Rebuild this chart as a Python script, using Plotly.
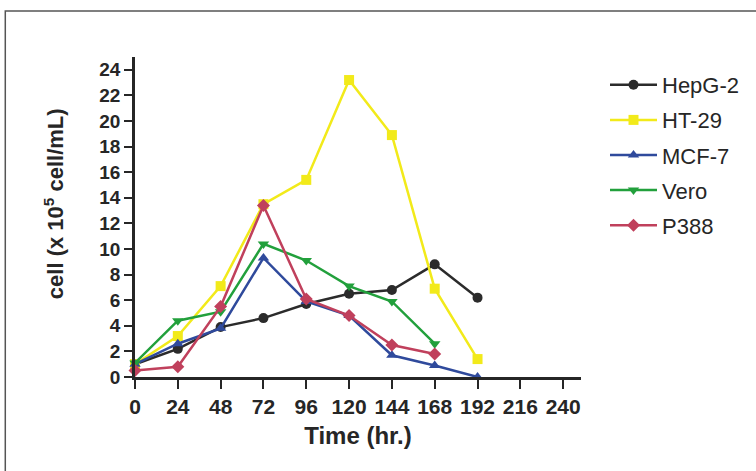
import plotly.graph_objects as go

# Sampling times (hours)
hours = [0, 24, 48, 72, 96, 120, 144, 168, 192]

# Cell density (x 10^5 cells/mL) per cell line
hepg2 = [1.0, 2.2, 3.9, 4.6, 5.7, 6.5, 6.8, 8.8, 6.2]
ht29 = [1.0, 3.2, 7.1, 13.5, 15.4, 23.2, 18.9, 6.9, 1.4]
mcf7 = [1.0, 2.6, 3.8, 9.3, 5.9, 4.8, 1.7, 0.9, 0.0]
vero = [1.1, 4.4, 5.1, 10.4, 9.1, 7.1, 5.9, 2.6]
p388 = [0.5, 0.8, 5.5, 13.4, 6.1, 4.8, 2.5, 1.8]

x_ticks = [0, 24, 48, 72, 96, 120, 144, 168, 192, 216, 240]
y_ticks = list(range(0, 25, 2))

series = [
    ("HepG-2", hepg2, "#2b2b2b", "circle"),
    ("HT-29", ht29, "#f2ea1a", "square"),
    ("MCF-7", mcf7, "#2f4a9c", "triangle-up"),
    ("Vero", vero, "#22a03c", "triangle-down"),
    ("P388", p388, "#c0405c", "diamond"),
]

fig = go.Figure()
for i, (name, vals, color, sym) in enumerate(series):
    fig.add_trace(go.Scatter(
        x=hours[:len(vals)], y=vals, name=name, mode="lines+markers",
        line=dict(color=color, width=2.5),
        marker=dict(symbol=sym, size=10, color=color),
        cliponaxis=False, legendgroup=f"g{i}",
    ))

L, R, T, B = 135, 174, 57, 94
W, H = 756 - L - R, 471 - T - B

def px_x(p):
    return (p - L) / W

def px_y(p):
    return (471 - B - p) / H

ink = "#262626"

fig.update_layout(
    width=756, height=471,
    margin=dict(l=L, r=R, t=T, b=B),
    paper_bgcolor="white", plot_bgcolor="white",
    font=dict(family="Liberation Sans, Arial", color=ink),
    showlegend=True,
    legend=dict(
        x=px_x(605), y=px_y(64), xanchor="left", yanchor="top",
        font=dict(size=22, color=ink),
        tracegroupgap=3.5, itemwidth=47, bgcolor="rgba(0,0,0,0)",
    ),
    xaxis=dict(
        range=[0, 250], tickvals=x_ticks,
        ticktext=[f"<b>{v}</b>" for v in x_ticks],
        showgrid=False, zeroline=False, automargin=False,
        showline=True, linecolor=ink, linewidth=2.5,
        ticks="outside", ticklen=9, tickwidth=2, tickcolor=ink,
        tickangle=0,
        tickfont=dict(size=21, color=ink),
        title=dict(text="<b>Time (hr.)</b>", font=dict(size=24, color=ink), standoff=11),
    ),
    yaxis=dict(
        range=[0, 25], tickvals=y_ticks,
        ticktext=[f"<b>{v}</b>" for v in y_ticks],
        showgrid=False, zeroline=False, automargin=False,
        showline=True, linecolor=ink, linewidth=2.5,
        ticks="outside", ticklen=8, tickwidth=2, tickcolor=ink,
        tickfont=dict(size=19, color=ink),
    ),
    annotations=[
        dict(text="<b>cell (x 10<sup>5</sup> cell/mL)</b>", textangle=-90,
             xref="paper", yref="paper", x=px_x(54), y=px_y(204),
             xanchor="center", yanchor="middle", showarrow=False,
             font=dict(size=22, color=ink)),
    ],
    shapes=[
        dict(type="rect", xref="paper", yref="paper",
             x0=px_x(5), x1=px_x(762), y0=px_y(480), y1=px_y(11),
             line=dict(color="#555555", width=1.5), layer="below"),
    ],
)

fig.write_html("out.html")
